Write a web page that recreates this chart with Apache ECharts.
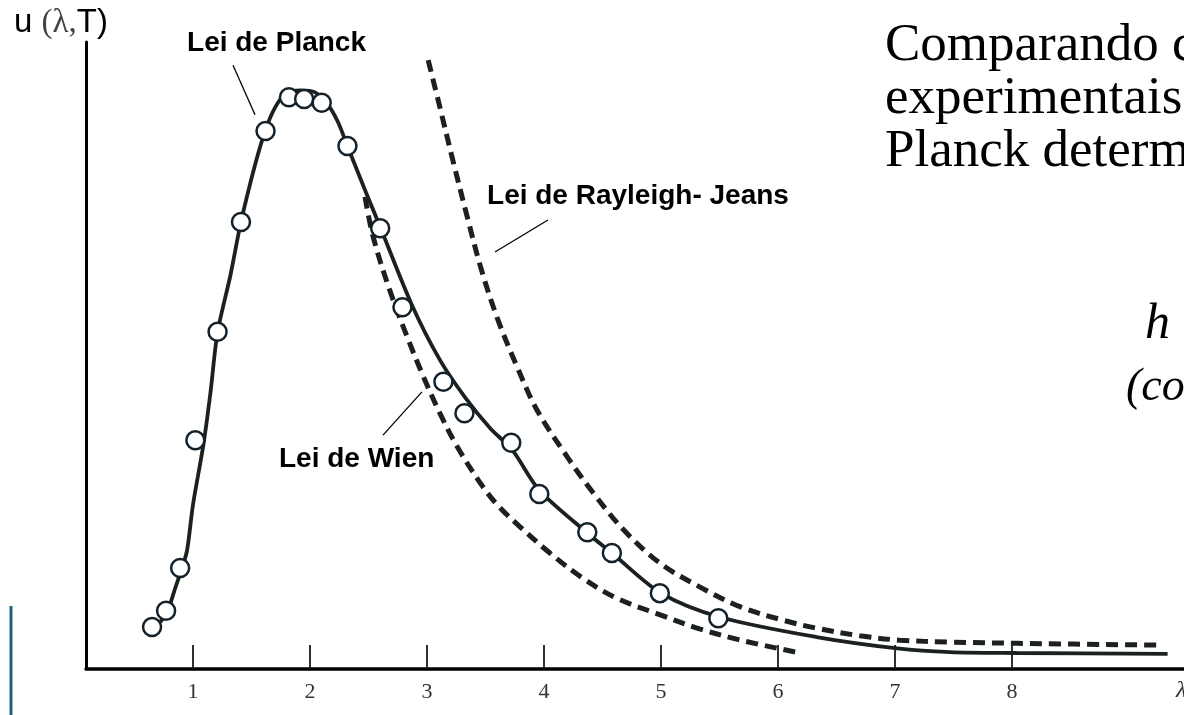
<!DOCTYPE html>
<html><head><meta charset="utf-8">
<script src="https://cdn.jsdelivr.net/npm/echarts@6/dist/echarts.min.js"></script>
<style>html,body{margin:0;padding:0;background:#fff;overflow:hidden}#c{width:1184px;height:715px}</style>
</head><body><div id="c"></div>
<script>
// ---- data ----
const xTicks = [1, 2, 3, 4, 5, 6, 7, 8];

// Planck's law curve (solid)
const planckX = [0.72, 0.78, 0.85, 0.91, 0.95, 1.00, 1.09, 1.15, 1.21, 1.32, 1.41, 1.53, 1.62, 1.70, 1.79, 1.92, 2.04, 2.15, 2.24, 2.32, 2.47, 2.60, 2.87, 3.11, 3.33, 3.54, 3.73, 3.96, 4.37, 4.58, 5.00, 5.50, 6.33, 7.02, 7.47, 8.04, 9.33];
const planckY = [7.5, 9.1, 13.0, 16.3, 19.0, 26.2, 35.9, 44.2, 53.7, 62.8, 71.3, 80.4, 86.0, 89.5, 91.7, 92.3, 92.0, 90.1, 87.2, 83.4, 76.4, 70.5, 58.1, 49.3, 43.2, 38.4, 34.9, 28.5, 21.7, 18.5, 12.1, 8.3, 5.1, 3.3, 2.7, 2.55, 2.4];

// Rayleigh-Jeans law (dashed)
const rjX = [3.01, 3.11, 3.22, 3.34, 3.46, 3.60, 3.77, 3.94, 4.20, 4.42, 4.68, 4.99, 5.33, 5.68, 6.04, 6.33, 6.70, 7.04, 7.47, 8.04, 9.28];
const rjY = [97.1, 89.6, 81.2, 72.4, 64.0, 56.0, 48.2, 41.3, 33.8, 28.1, 22.2, 16.9, 13.1, 9.9, 7.8, 6.5, 5.3, 4.6, 4.3, 4.1, 3.8];

// Wien's law (dashed)
const wienX = [2.47, 2.54, 2.68, 2.83, 2.97, 3.11, 3.26, 3.48, 3.62, 3.80, 4.05, 4.33, 4.62, 4.97, 5.33, 5.68, 6.15];
const wienY = [75.3, 68.9, 60.5, 53.0, 46.6, 40.8, 35.4, 29.0, 25.8, 22.6, 18.5, 14.5, 11.3, 8.8, 6.4, 4.6, 2.7];

// experimental points (circles)
const expX = [0.65, 0.77, 0.89, 1.02, 1.21, 1.41, 1.62, 1.82, 1.95, 2.10, 2.32, 2.60, 2.79, 3.14, 3.32, 3.72, 3.96, 4.37, 4.58, 4.99, 5.49];
const expY = [6.7, 9.3, 16.1, 36.5, 53.8, 71.3, 85.8, 91.2, 90.9, 90.3, 83.4, 70.3, 57.7, 45.8, 40.8, 36.1, 27.9, 21.8, 18.5, 12.1, 8.1];

// annotations (data coords): label anchor and pointer ends
const annLabels = ['Lei de Planck', 'Lei de Rayleigh- Jeans', 'Lei de Wien'];
const annText = [[0.949, 99.8], [3.513, 75.4], [1.735, 33.5]];
const annFrom = [[1.342, 96.3], [4.034, 71.6], [2.957, 44.2]];
const annTo = [[1.530, 88.4], [3.581, 66.5], [2.624, 37.3]];

const slideLines = ['Comparando com os dados', 'experimentais com sua fórmula,', 'Planck determinou'];

// ---- chart ----
const zip = (a, b) => a.map((v, i) => [v, b[i]]);
const ink = '#1a211f';
const chart = echarts.init(document.getElementById('c'));
chart.setOption({
  animation: false,
  backgroundColor: '#fff',
  grid: { left: 86, right: 0, top: 42, bottom: 46, containLabel: false },
  xAxis: {
    type: 'value', min: 0.0855, max: 9.47,
    axisLine: { show: true, onZero: false, lineStyle: { color: '#000', width: 3.5 } },
    axisTick: { show: true, inside: true, length: 24, customValues: xTicks, lineStyle: { color: '#1a1a1a', width: 1.8 } },
    axisLabel: { show: true, customValues: xTicks, margin: 12, fontFamily: 'Liberation Serif', fontSize: 22, color: '#333' },
    splitLine: { show: false }
  },
  yAxis: {
    type: 'value', min: 0, max: 100,
    axisLine: { show: true, onZero: false, lineStyle: { color: '#000', width: 3 } },
    axisTick: { show: false }, axisLabel: { show: false }, splitLine: { show: false }
  },
  series: [
    { type: 'line', name: 'Planck', data: zip(planckX, planckY), smooth: 0.3, symbol: 'none',
      lineStyle: { color: ink, width: 3.8 }, z: 3 },
    { type: 'line', name: 'Rayleigh-Jeans', data: zip(rjX, rjY), smooth: 0.35, symbol: 'none',
      lineStyle: { color: ink, width: 5, type: [12, 7] }, z: 2 },
    { type: 'line', name: 'Wien', data: zip(wienX, wienY), smooth: 0.35, symbol: 'none',
      lineStyle: { color: ink, width: 5, type: [12, 7] }, z: 2 },
    { type: 'scatter', name: 'Experimental', data: zip(expX, expY), symbol: 'circle', symbolSize: 18,
      itemStyle: { color: '#fff', opacity: 1, borderColor: '#14212b', borderWidth: 2.5 }, z: 5 }
  ]
});

const px = p => chart.convertToPixel({ gridIndex: 0 }, p);
const graphic = [];
annLabels.forEach((t, i) => {
  const a = px(annText[i]);
  graphic.push({ type: 'text', x: a[0], y: a[1], style: { text: t, fill: '#000', font: 'bold 28px "Liberation Sans", Arial, sans-serif', textVerticalAlign: 'middle' } });
  const f = px(annFrom[i]), g = px(annTo[i]);
  graphic.push({ type: 'line', shape: { x1: f[0], y1: f[1], x2: g[0], y2: g[1] }, style: { stroke: '#000', lineWidth: 1.3 } });
});
// axis titles
graphic.push({ type: 'text', x: 14, y: 23, style: {
  rich: { a: { font: '33px "Liberation Sans", Arial, sans-serif', fill: '#000' }, b: { font: '33px "Liberation Serif", serif', fill: '#444' } },
  text: '{a|u }{b|(λ,}{a|T)}', textVerticalAlign: 'middle' } });
graphic.push({ type: 'text', x: 1176, y: 691, style: { text: 'λ', font: 'italic 24px "Liberation Serif", serif', fill: '#333', textVerticalAlign: 'middle' } });
// slide text on the right
slideLines.forEach((t, i) => {
  graphic.push({ type: 'text', x: 885, y: 46 + i * 53, style: { text: t, font: '53px "Liberation Serif", "Times New Roman", serif', fill: '#000', textVerticalAlign: 'middle' } });
});
graphic.push({ type: 'text', x: 1145, y: 325, style: { text: 'h = 6,63 × 10⁻³⁴ J.s', font: 'italic 50px "Liberation Serif", serif', fill: '#000', textVerticalAlign: 'middle' } });
graphic.push({ type: 'text', x: 1126, y: 388, style: { text: '(constante de Planck)', font: 'italic 46px "Liberation Serif", serif', fill: '#000', textVerticalAlign: 'middle' } });
// slide decoration
graphic.push({ type: 'line', shape: { x1: 11, y1: 606, x2: 11, y2: 715 }, style: { stroke: '#1d6575', lineWidth: 3 } });
chart.setOption({ graphic });
</script>
</body></html>
